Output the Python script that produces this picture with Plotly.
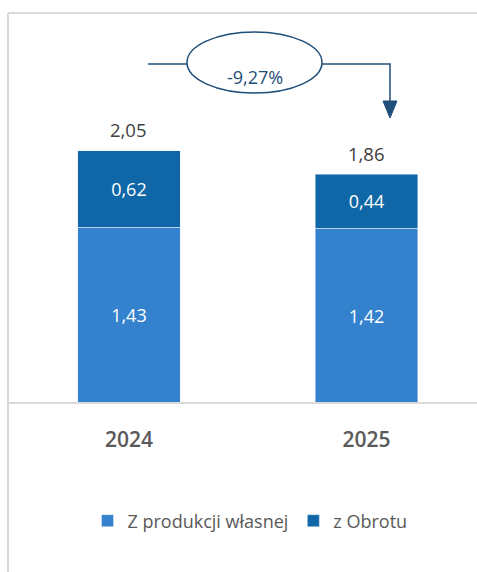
import plotly.graph_objects as go

# Data
years = ["2024", "2025"]
own_production = [1.43, 1.42]
trade = [0.62, 0.44]
series_names = ["Z produkcji własnej", "z Obrotu"]

LIGHT = "#3481CD"
DARK = "#0F67A7"
NAVY = "#1F4E79"
GRID = "#D9D9D9"
FONT = "Open Sans"

W, H = 477, 572


def fmt(v):
    return f"{v:.2f}".replace(".", ",")


def px(x):
    return x / W


def py(y):
    return 1 - y / H


totals = [a + b for a, b in zip(own_production, trade)]
change = (totals[1] - totals[0]) / totals[0] * 100

fig = go.Figure()
fig.add_trace(go.Bar(
    x=years, y=own_production, name=series_names[0], marker_color=LIGHT,
    text=[fmt(v) for v in own_production], textposition="inside",
    insidetextanchor="middle", textangle=0,
    textfont=dict(color="white", size=18, family=FONT), width=0.43,
))
fig.add_trace(go.Bar(
    x=years, y=trade, name=series_names[1], marker_color=DARK,
    text=[fmt(v) for v in trade], textposition="inside",
    insidetextanchor="middle", textangle=0,
    textfont=dict(color="white", size=18, family=FONT), width=0.43,
))

# totals above stacks
for i, t in enumerate(totals):
    fig.add_annotation(x=i, y=t, xref="x", yref="y", text=fmt(t),
                       showarrow=False, yanchor="middle", yshift=21,
                       font=dict(size=18.5, color="#404040", family=FONT))

# change callout: ellipse with connector and down arrow
shapes = [
    dict(type="line", xref="paper", yref="paper",
         x0=px(148), x1=px(187), y0=py(64), y1=py(64),
         line=dict(color=NAVY, width=1.5)),
    dict(type="circle", xref="paper", yref="paper",
         x0=px(187), x1=px(322), y0=py(32), y1=py(93),
         line=dict(color=NAVY, width=1.5), fillcolor="white"),
    dict(type="path", xref="paper", yref="paper",
         path=f"M {px(322)},{py(64)} L {px(390)},{py(64)} L {px(390)},{py(103)}",
         line=dict(color=NAVY, width=1.5)),
    dict(type="path", xref="paper", yref="paper",
         path=f"M {px(383)},{py(101)} L {px(397)},{py(101)} L {px(390)},{py(118)} Z",
         line=dict(color=NAVY, width=1), fillcolor=NAVY),
    # frame edges
    dict(type="line", xref="paper", yref="paper",
         x0=px(8), x1=px(8), y0=py(13), y1=0,
         line=dict(color=GRID, width=2)),
    dict(type="line", xref="paper", yref="paper",
         x0=px(8), x1=1, y0=py(13), y1=py(13),
         line=dict(color=GRID, width=2)),
    # baseline
    dict(type="line", xref="paper", yref="paper",
         x0=px(8), x1=1, y0=py(403), y1=py(403),
         line=dict(color=GRID, width=2)),
]
fig.add_annotation(xref="paper", yref="paper", x=px(254.5), y=py(63),
                   text=f"{change:.2f}%".replace(".", ","), showarrow=False,
                   font=dict(size=18, color=NAVY, family=FONT))

fig.update_layout(
    width=W, height=H, autosize=False,
    margin=dict(l=0, r=0, t=0, b=0),
    barmode="stack", bargap=0.5,
    plot_bgcolor="white", paper_bgcolor="white",
    font=dict(family=FONT, color="#595959"),
    shapes=shapes,
    showlegend=True,
    legend=dict(orientation="h", x=px(250), xanchor="center",
                y=py(521), yanchor="middle", traceorder="normal",
                font=dict(size=18, color="#595959", family=FONT),
                tracegroupgap=0),
    xaxis=dict(type="category", domain=[px(8), 1], range=[-0.509, 1.465],
               showgrid=False, showline=False, zeroline=False,
               ticks="", ticklabelstandoff=22,
               tickfont=dict(size=21, color="#595959", family=FONT,
                             weight=600)),
    yaxis=dict(domain=[py(403), py(13)], range=[0, 3.17],
               visible=False, showgrid=False, zeroline=False),
)

fig.write_html("out.html")
